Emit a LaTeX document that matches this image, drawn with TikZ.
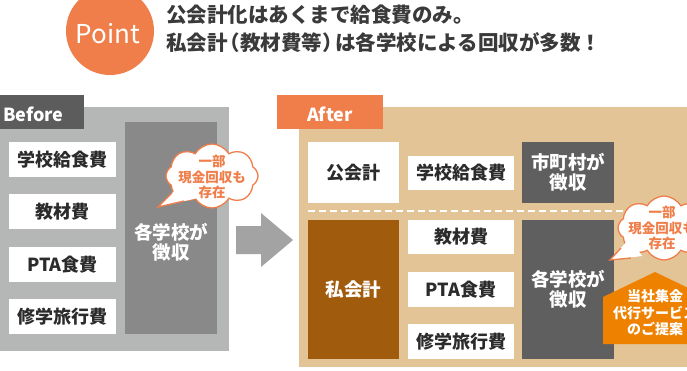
\documentclass[tikz,border=0pt]{standalone}
\usepackage{fontspec}
\setmainfont{Noto Sans CJK JP}
\newfontfamily\jp{Noto Sans CJK JP}
\usetikzlibrary{shapes.symbols}
\newcommand\jlp{\makebox[0.62em][r]{（}}
\newcommand\jrp{\makebox[0.62em][l]{）}}
\definecolor{orangeA}{HTML}{EF7E4A}
\definecolor{orangeB}{HTML}{EE8200}
\definecolor{tabgray}{HTML}{5C5C5C}
\definecolor{panelgray}{HTML}{B5B6B6}
\definecolor{colgray}{HTML}{898989}
\definecolor{arrowgray}{HTML}{A3A3A3}
\definecolor{beige}{HTML}{E3C497}
\definecolor{brown}{HTML}{A15B0C}
\definecolor{dgray}{HTML}{5F5F5F}
\definecolor{txt}{HTML}{2B2B2B}
\definecolor{headc}{HTML}{3A3A3A}
\begin{document}
\begin{tikzpicture}[x=1pt,y=-1pt,
  wbox/.style={fill=white, inner sep=0, text=txt, font=\jp\bfseries\fontsize{18}{20}\selectfont},
  gbox/.style={fill=dgray, inner sep=0, text=white, align=center, font=\jp\bfseries\fontsize{18.5}{20}\selectfont},
  headtxt/.style={anchor=west, inner sep=0, text=headc, font=\jp\bfseries\fontsize{20.5}{24}\selectfont},
  tabtxt/.style={inner sep=0, text=white, font=\jp\bfseries\fontsize{18}{20}\selectfont},
  bubble/.style={cloud, cloud puffs=8, cloud puff arc=120, cloud ignores aspect, draw=orangeA, fill=white, line width=1.3, inner sep=0},
  bubtxt/.style={inner sep=0, text=orangeA, align=center, font=\jp\bfseries\fontsize{13.5}{15.5}\selectfont},
  tailedge/.style={draw=orangeA, line width=1.3}
]
\clip (0,0) rectangle (687,370);
\fill[white] (0,0) rectangle (687,370);

% heading
\node[circle, fill=orangeA, minimum size=88, inner sep=0] (pt) at (110,31) {};
\node[inner sep=0, text=white, font=\jp\fontsize{26}{26}\selectfont] (pttxt) at (108,34) {Point};
\node[headtxt] (h1) at (166,15) {公会計化はあくまで給食費のみ。};
\node[headtxt] (h2) at (166,43) {私会計\jlp 教材費等\jrp は各学校による回収が多数！};

% Before
\node[fill=panelgray, minimum width=229, minimum height=244, inner sep=0, anchor=north west] (bpanel) at (0,107) {};
\node[fill=tabgray, minimum width=84, minimum height=34, inner sep=0, anchor=north west] (btab) at (0,95) {};
\node[tabtxt, anchor=west] (btabtxt) at (3,114) {Before};
\node[fill=colgray, minimum width=92, minimum height=212, inner sep=0, anchor=north west] (bcol) at (125,122) {};
\node[inner sep=0, text=white, align=center, font=\jp\bfseries\fontsize{18.5}{20}\selectfont] (bcoltxt) at (171,242) {各学校が\\徴収};
\node[wbox, minimum width=107, minimum height=35] (b1) at (62.5,159.5) {学校給食費};
\node[wbox, minimum width=107, minimum height=35] (b2) at (62.5,211.5) {教材費};
\node[wbox, minimum width=107, minimum height=35] (b3) at (62.5,264.5) {PTA食費};
\node[wbox, minimum width=107, minimum height=35] (b4) at (62.5,316.5) {修学旅行費};

% bubble 1
\node[bubble, minimum width=92, minimum height=64] (bub1) at (212,176) {};
\coordinate (tip1) at (158,207);
\fill[white] (tip1) -- (183,182) -- (198,198) -- cycle;
\draw[tailedge] (172,193) -- (tip1) -- (184,201);
\node[bubtxt] (bub1txt) at (212,177) {一部\\現金回収も\\存在};

% arrow
\fill[arrowgray] (236,226) -- (261,226) -- (261,213) -- (293,240) -- (261,267) -- (261,254) -- (236,254) -- cycle;

% After
\node[fill=beige, minimum width=400, minimum height=260, inner sep=0, anchor=north west] (apanel) at (299,107) {};
\node[fill=orangeA, minimum width=106, minimum height=34, inner sep=0, anchor=north west] (atab) at (277,95) {};
\node[tabtxt] (atabtxt) at (330,114) {After};

\node[wbox, minimum width=91, minimum height=61] (pub) at (353.5,172.5) {公会計};
\node[wbox, minimum width=106, minimum height=34] (a1) at (461,173) {学校給食費};
\node[gbox, minimum width=92, minimum height=61] (city) at (568,172.5) {市町村が\\徴収};

\draw[white, line width=2, dash pattern=on 7 off 4] (308,211) -- (699,211);

\node[fill=brown, minimum width=91, minimum height=139, inner sep=0, text=white, font=\jp\bfseries\fontsize{18.5}{20}\selectfont] (priv) at (353.5,289.5) {私会計};
\node[wbox, minimum width=106, minimum height=34] (a2) at (461,237) {教材費};
\node[wbox, minimum width=106, minimum height=35] (a3) at (461,289.5) {PTA食費};
\node[wbox, minimum width=106, minimum height=35] (a4) at (461,341.5) {修学旅行費};
\node[gbox, minimum width=92, minimum height=139] (school) at (568,289.5) {各学校が\\徴収};

% bubble 2
\node[bubble, minimum width=92, minimum height=64] (bub2) at (664,228) {};
\coordinate (tip2) at (610,260);
\fill[white] (tip2) -- (630,238) -- (642,256) -- cycle;
\draw[tailedge] (621,248) -- (tip2) -- (631,258);
\node[bubtxt] (bub2txt) at (662,228) {一部\\現金回収も\\存在};

% proposal pentagon
\fill[orangeB] (603,344) -- (603,297) -- (655,272) -- (707,297) -- (707,344) -- cycle;
\node[inner sep=0, text=white, align=center, font=\jp\bfseries\fontsize{14}{16.5}\selectfont] (prop) at (655,313) {当社集金\\代行サービス\\のご提案};
\end{tikzpicture}
\end{document}
